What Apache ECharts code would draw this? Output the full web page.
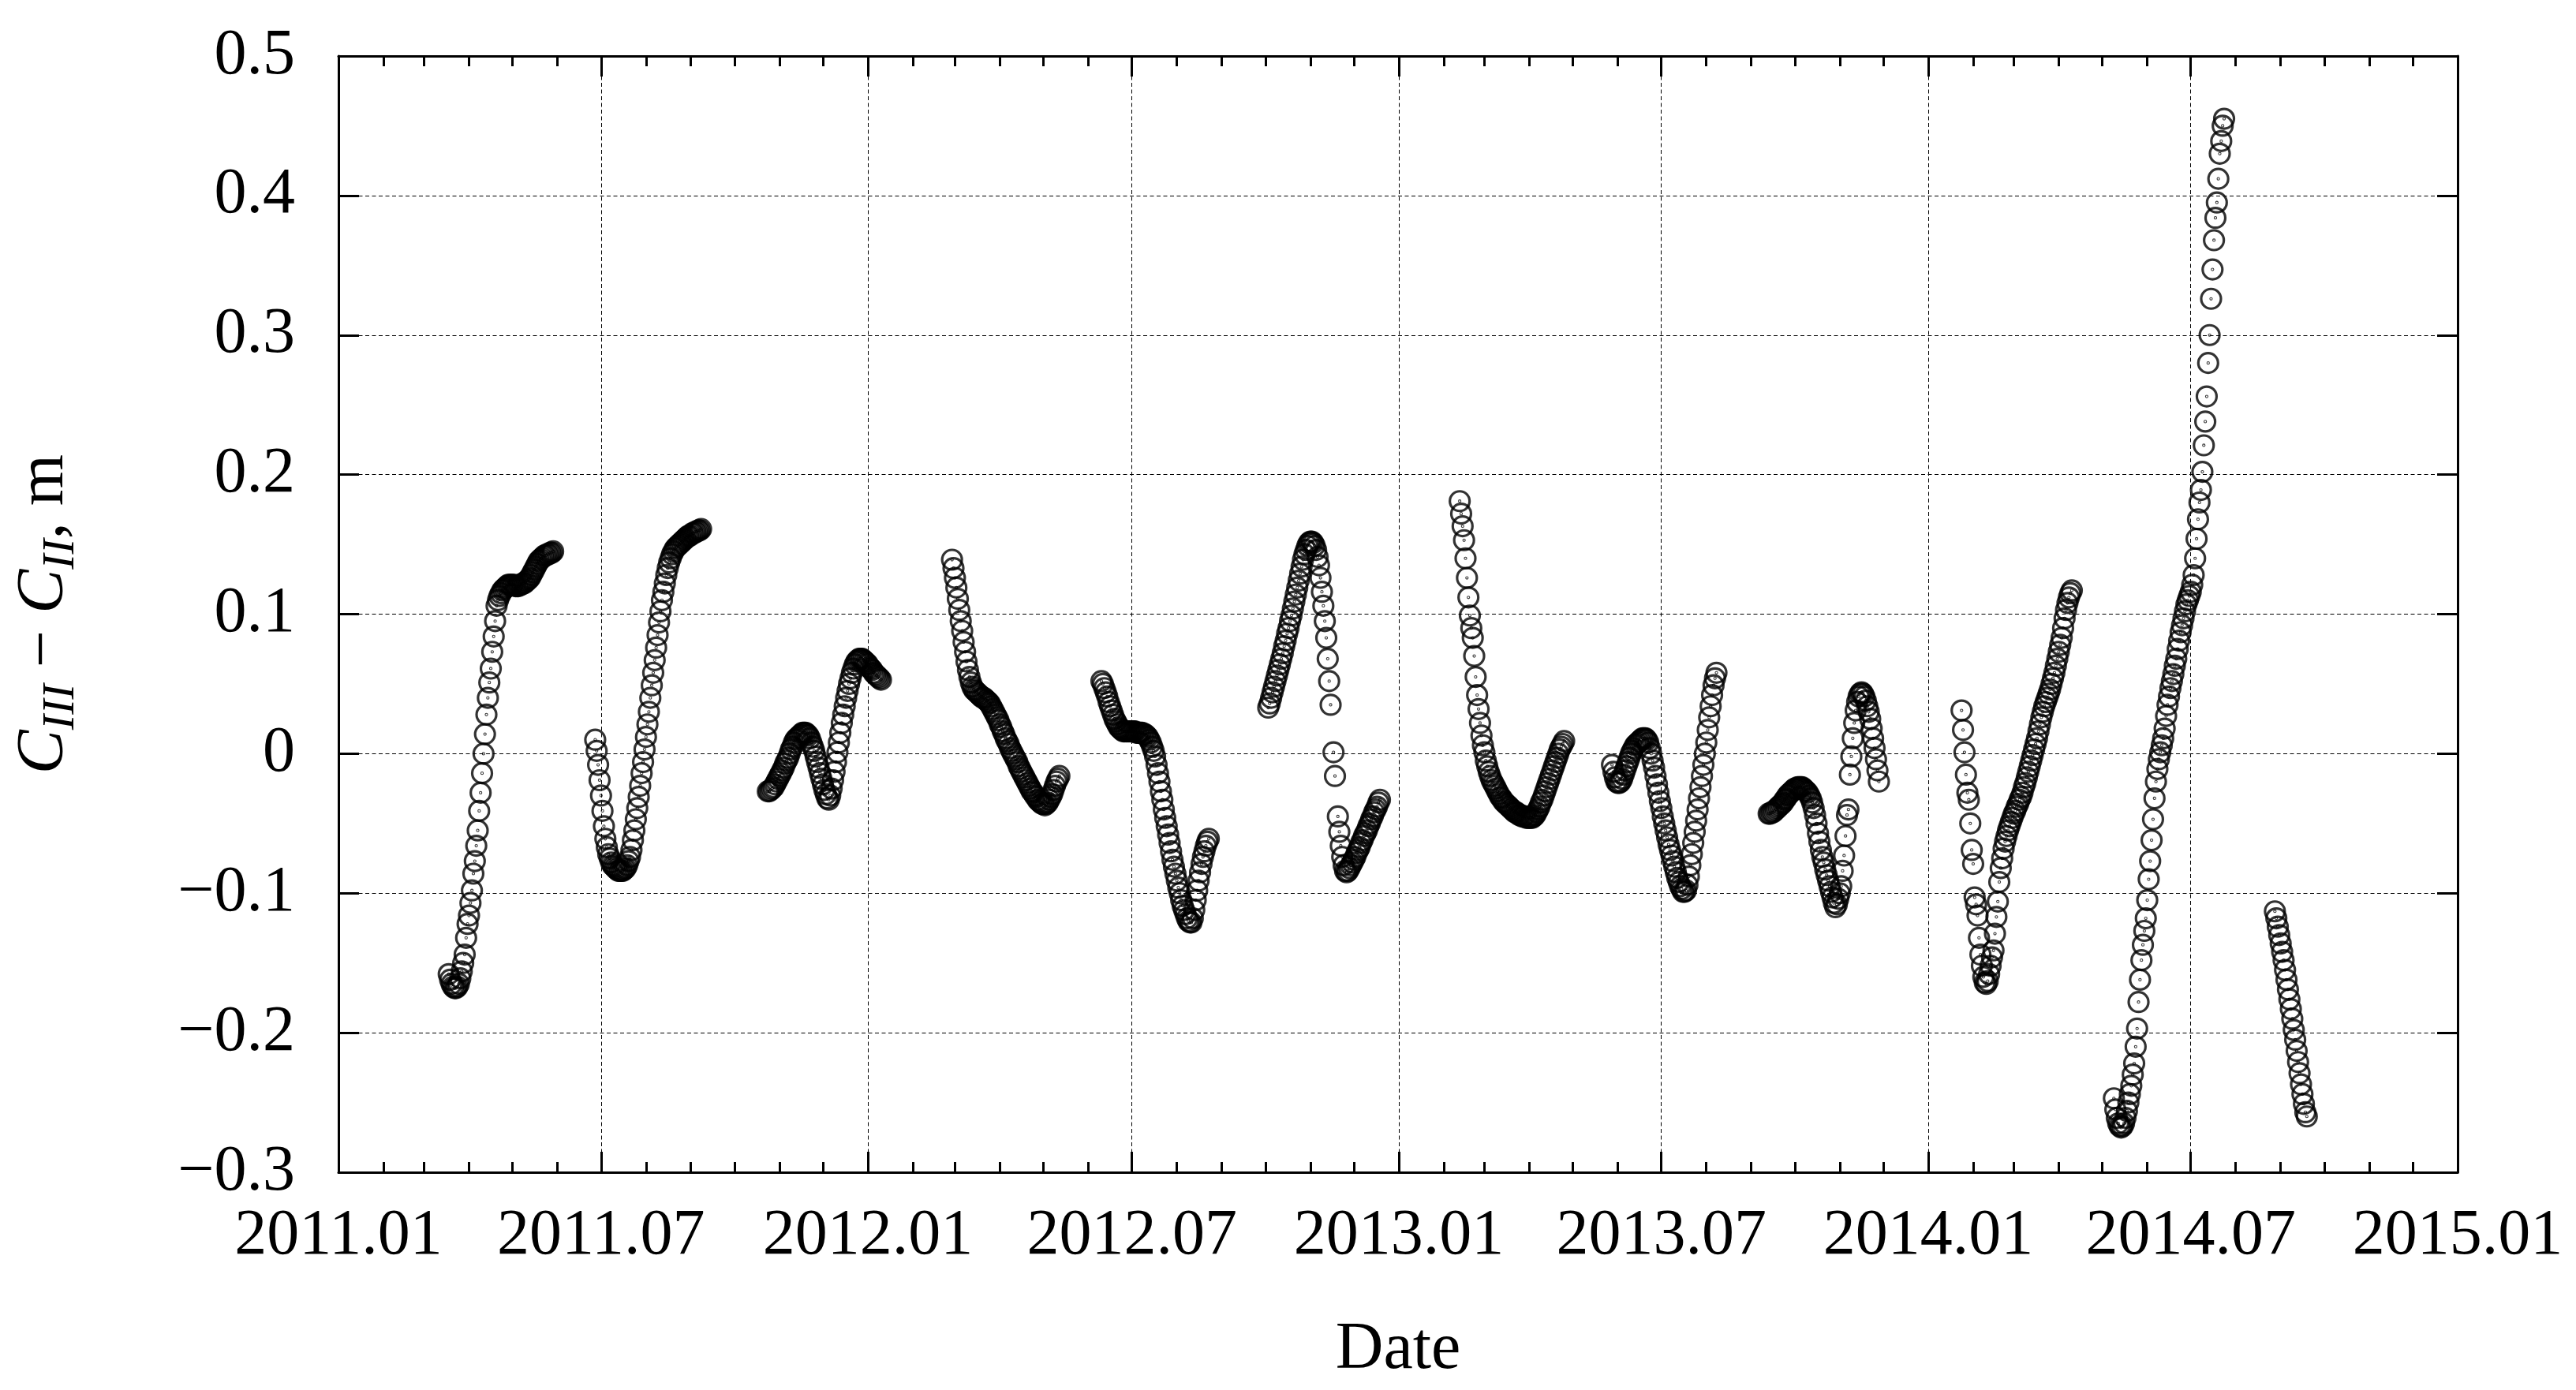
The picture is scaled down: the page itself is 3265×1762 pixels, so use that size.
<!DOCTYPE html>
<html>
<head>
<meta charset="utf-8">
<title>C_III − C_II</title>
<script src="https://cdn.jsdelivr.net/npm/echarts@6/dist/echarts.min.js"></script>
<style>
  html, body { margin: 0; padding: 0; background: #fff; }
  #chart { width: 3265px; height: 1762px; }
</style>
</head>
<body>
<div id="chart"></div>
<script>
// date axis tick labels (year.month)
const dateTicks = ['2011.01', '2011.07', '2012.01', '2012.07', '2013.01', '2013.07', '2014.01', '2014.07', '2015.01']

// first day of each observation run
const runStarts = [
  '2011-03-18', '2011-06-27', '2011-10-24', '2012-02-28', '2012-06-10', '2012-10-03',
  '2013-02-12', '2013-05-28', '2013-09-13', '2014-01-24', '2014-05-09', '2014-08-28'
]

// daily values of C_III - C_II, m (null = day missing)
const run1 = [
  -0.158, -0.162, -0.165, -0.167, -0.168, -0.168, -0.167, -0.165, -0.161, -0.156, -0.150,
  -0.144, -0.132, -0.122, -0.116, -0.107, -0.098, -0.086, -0.077, -0.066, -0.055, -0.041, -0.028,
  -0.014, 0.000, 0.014, 0.028, 0.040, 0.051, 0.061, 0.073, 0.084, 0.095, 0.106,
  0.110, 0.113, 0.115, 0.117, 0.118, 0.119, 0.120, 0.121, 0.121, 0.121, 0.121, 0.121, 0.120,
  0.120, 0.120, 0.121, 0.121, 0.122, 0.122, 0.123, 0.124, 0.125, 0.126, 0.128, 0.130, 0.132,
  0.134, 0.136, 0.138, 0.139, 0.140, 0.141, 0.142, 0.142, 0.143, 0.143, 0.144, 0.144, 0.145
]
const run2 = [
  0.010, 0.002, -0.008, -0.019, -0.030, -0.041, -0.052, -0.061, -0.067, -0.072,
  -0.075, -0.078, -0.080, -0.081, -0.082, -0.083, -0.084, -0.084, -0.084, -0.084,
  -0.083, -0.082, -0.080, -0.077, -0.074, -0.069, -0.062, -0.055, -0.047, -0.039,
  -0.031, -0.023, -0.014, -0.006, 0.003, 0.012, 0.021, 0.030, 0.040, 0.049,
  0.058, 0.067, 0.076, 0.085, 0.094, 0.102, 0.110, 0.116, 0.122, 0.128,
  0.133, 0.137, 0.140, 0.143, 0.145, 0.147, 0.148, 0.149, 0.150, 0.151,
  0.152, 0.153, 0.154, 0.155, 0.156, 0.156, 0.157, 0.158, 0.158, 0.159,
  0.159, 0.160, 0.160, 0.161
]
const run3 = [
  -0.027, -0.027, -0.026, -0.025, -0.024, -0.022, -0.020, -0.018, -0.016, -0.014,
  -0.012, -0.010, -0.007, -0.005, -0.003, 0.000, 0.003, 0.005, 0.008, 0.010,
  0.011, 0.012, 0.013, 0.014, 0.015, 0.015, 0.015, 0.014, 0.013, 0.011,
  0.008, 0.005, 0.002, -0.002, -0.006, -0.010, -0.014, -0.018, -0.022, -0.026,
  -0.029, -0.032, -0.033, -0.030, -0.025, -0.019, -0.013, -0.006, 0.001, 0.008,
  0.015, 0.022, 0.028, 0.034, 0.040, 0.045, 0.050, 0.054, 0.058, 0.061,
  0.064, 0.066, 0.067, 0.068, 0.068, 0.068, 0.067, 0.066, 0.065, 0.064,
  0.062, 0.061, 0.060, 0.058, 0.057, 0.056, 0.055, 0.054, 0.053
]
const run4 = [
  0.139, 0.133, 0.126, 0.119, 0.111, 0.103, 0.095, 0.088, 0.080, 0.073,
  0.066, 0.060, 0.055, 0.051, 0.048, 0.046, 0.045, 0.044, 0.043, 0.042,
  0.041, 0.040, 0.040, 0.039, 0.038, 0.037, 0.036, 0.034, 0.032, 0.030,
  0.028, 0.026, 0.024, 0.021, 0.019, 0.016, 0.014, 0.011, 0.009, 0.007,
  0.004, 0.002, 0.000, -0.002, -0.004, -0.006, -0.009, -0.011, -0.013, -0.015,
  -0.017, -0.019, -0.021, -0.023, -0.025, -0.027, -0.028, -0.030, -0.031, -0.033,
  -0.034, -0.035, -0.036, -0.036, -0.037, -0.036, -0.035, -0.033, -0.031, -0.029,
  -0.026, -0.023, -0.020, -0.018, -0.016
]
const run5 = [
  0.052, 0.050, 0.047, 0.044, 0.041, 0.037, 0.034, 0.031, 0.028, 0.025,
  0.023, 0.021, 0.019, 0.018, 0.017, 0.016, 0.016, 0.016, 0.016, 0.016,
  0.016, 0.016, 0.016, 0.016, 0.015, 0.015, 0.015, 0.015, 0.015, 0.014,
  0.014, 0.013, 0.012, 0.010, 0.008, 0.005, 0.002, -0.002, -0.008, -0.014,
  -0.020, -0.027, -0.033, -0.040, -0.046, -0.052, -0.058, -0.064, -0.070, -0.076,
  -0.081, -0.086, -0.091, -0.096, -0.100, -0.105, -0.109, -0.112, -0.115, -0.118,
  -0.120, -0.121, -0.121, -0.118, -0.112, -0.105, -0.098, -0.091, -0.085, -0.079,
  -0.074, -0.070, -0.066, -0.063, -0.061
]
const run6 = [
  0.033, 0.036, 0.040, 0.044, 0.048, 0.052, 0.056, 0.060, 0.064, 0.068,
  0.072, 0.077, 0.081, 0.086, 0.090, 0.095, 0.099, 0.104, 0.109, 0.114,
  0.119, 0.124, 0.129, 0.134, 0.139, 0.143, 0.146, 0.149, 0.151, 0.152,
  0.152, 0.151, 0.149, 0.146, 0.141, 0.135, 0.126, 0.116, 0.106, 0.095,
  0.083, 0.068, 0.052, 0.035, null, 0.001, -0.016, null, -0.045, -0.056,
  -0.066, -0.074, -0.080, -0.084, -0.085, -0.084, -0.082, -0.080, -0.078, -0.076,
  -0.074, -0.071, -0.069, -0.067, -0.064, -0.062, -0.059, -0.057, -0.055, -0.052,
  -0.050, -0.047, -0.045, -0.042, -0.040, -0.038, -0.035, -0.033
]
const run7 = [
  0.181, 0.172, 0.163, 0.153, 0.140, 0.126, 0.112, 0.099, 0.090, 0.083,
  0.070, 0.055, 0.042, 0.032, 0.022, 0.013, 0.006, 0.001, -0.005, -0.009,
  -0.013, -0.016, -0.019, -0.021, -0.023, -0.025, -0.027, -0.029, -0.031, -0.032,
  -0.034, -0.035, -0.036, -0.037, -0.038, -0.039, -0.040, -0.041, -0.042, -0.042,
  -0.043, -0.044, -0.044, -0.045, -0.045, -0.045, -0.046, -0.046, -0.046, -0.046,
  -0.046, -0.045, -0.044, -0.042, -0.040, -0.038, -0.035, -0.033, -0.030, -0.027,
  -0.024, -0.021, -0.018, -0.015, -0.012, -0.009, -0.006, -0.003, 0.000, 0.003,
  0.005, 0.007, 0.009
]
const run8 = [
  -0.008, -0.013, -0.017, -0.020, -0.021, -0.021, -0.020, -0.018, -0.015, -0.012,
  -0.009, -0.006, -0.003, 0.000, 0.002, 0.004, 0.006, 0.007, 0.008, 0.009,
  0.010, 0.011, 0.011, 0.011, 0.010, 0.008, 0.004, 0.000, -0.005, -0.010,
  -0.016, -0.022, -0.028, -0.034, -0.039, -0.045, -0.050, -0.055, -0.060, -0.065,
  -0.069, -0.073, -0.077, -0.081, -0.085, -0.089, -0.092, -0.095, -0.097, -0.099,
  -0.099, -0.098, -0.094, -0.088, -0.080, -0.072, -0.064, -0.056, -0.048, -0.040,
  -0.032, -0.024, -0.016, -0.008, 0.000, 0.008, 0.017, 0.026, 0.034, 0.042,
  0.049, 0.054, 0.058
]
const run9 = [
  -0.043, -0.043, -0.042, -0.042, -0.041, -0.040, -0.039, -0.038, -0.037, -0.036,
  -0.035, -0.033, -0.032, -0.030, -0.029, -0.028, -0.027, -0.026, -0.025, -0.025,
  -0.024, -0.024, -0.024, -0.024, -0.025, -0.026, -0.027, -0.028, -0.030, -0.032,
  -0.035, -0.039, -0.044, -0.050, -0.057, -0.063, -0.069, -0.074, -0.078, -0.083,
  -0.087, -0.091, -0.095, -0.099, -0.103, -0.107, -0.110, -0.108, -0.104, -0.100,
  -0.095, -0.084, -0.073, -0.059, -0.044, -0.040, -0.015, -0.002, 0.011, 0.022,
  0.031, 0.037, 0.041, 0.043, 0.044, 0.043, 0.041, 0.038, 0.034, 0.030,
  0.025, 0.018, 0.011, 0.004, -0.004, -0.012, -0.020
]
const run10 = [
  0.031, 0.017, 0.001, -0.015, -0.028, -0.033, -0.050, -0.069, -0.079, -0.103,
  -0.108, -0.116, -0.132, -0.144, -0.152, -0.160, -0.164, -0.165, -0.163, -0.158,
  -0.152, -0.146, -0.141, -0.129, -0.117, -0.106, -0.092, -0.082, -0.075, -0.068,
  -0.063, -0.059, -0.055, -0.052, -0.049, -0.046, -0.043, -0.041, -0.038, -0.036,
  -0.033, -0.031, -0.028, -0.024, -0.021, -0.017, -0.013, -0.009, -0.005, -0.001,
  0.003, 0.007, 0.011, 0.016, 0.021, 0.026, 0.030, 0.034, 0.037, 0.040,
  0.043, 0.046, 0.050, 0.054, 0.058, 0.063, 0.068, 0.073, 0.078, 0.083,
  0.090, 0.097, 0.103, 0.108, 0.112, 0.115, 0.117
]
const run11 = [
  -0.247, -0.255, -0.261, -0.265, -0.267, -0.268, -0.267, -0.265, -0.261, -0.256,
  -0.250, -0.244, -0.238, -0.230, -0.222, -0.210, -0.197, -0.178, -0.162, -0.148,
  -0.137, -0.127, -0.118, -0.105, -0.090, -0.077, -0.062, -0.047, -0.032, -0.020,
  -0.011, -0.004, 0.001, 0.006, 0.011, 0.018, 0.027, 0.035, 0.041, 0.047,
  0.052, 0.057, 0.063, 0.068, 0.075, 0.081, 0.087, 0.092, 0.097, 0.102,
  0.107, 0.110, 0.113, 0.116, 0.121, 0.128, 0.140, 0.154, 0.168, 0.180,
  0.189, 0.202, 0.221, 0.238, 0.256, 0.280, 0.300, 0.326, 0.347, 0.368,
  0.384, 0.395, 0.412, 0.430, 0.439, 0.450, 0.455
]
const run12 = [
  -0.113, -0.118, -0.124, -0.130, -0.136, -0.142, -0.148, -0.155, -0.162, -0.169,
  -0.176, -0.183, -0.190, -0.198, -0.205, -0.213, -0.221, -0.229, -0.237, -0.244,
  -0.251, -0.257, -0.260
]

const runs = [run1, run2, run3, run4, run5, run6, run7, run8, run9, run10, run11, run12]

const DAY = 86400000
const FONT = 'Liberation Serif'

function parseDay(s) {
  const [y, m, d] = s.split('-').map(Number)
  return Date.UTC(y, m - 1, d)
}

// tick positions from the labels
const majorTicks = dateTicks.map(s => {
  const [y, m] = s.split('.').map(Number)
  return Date.UTC(y, m - 1, 1)
})
const monthTicks = []
for (let y = 2011; y <= 2014; y++) {
  for (let m = 0; m < 12; m++) monthTicks.push(Date.UTC(y, m, 1))
}
monthTicks.push(Date.UTC(2015, 0, 1))

const xMin = majorTicks[0]
const xMax = majorTicks[majorTicks.length - 1]

// [time, value] pairs
const points = []
runs.forEach((vals, k) => {
  const t0 = parseDay(runStarts[k])
  vals.forEach((v, i) => {
    if (v !== null) points.push([t0 + i * DAY, v])
  })
})

function dateLabel(v) {
  const d = new Date(v)
  const m = d.getUTCMonth() + 1
  return d.getUTCFullYear() + '.' + (m < 10 ? '0' + m : m)
}

function numLabel(v) {
  const r = Math.round(v * 10) / 10
  if (r === 0) return '0'
  return r < 0 ? '\u2212' + (-r).toFixed(1) : r.toFixed(1)
}

const frame = { show: true, onZero: false, lineStyle: { color: '#000', width: 3 } }
const gridDash = { show: true, lineStyle: { color: '#000', width: 1, type: [5, 3.5] } }

// ring with a small dot in the middle, like the plotting program's point
const ringSymbol = 'path://M0,-12A12,12 0 1,1 0,12A12,12 0 1,1 0,-12Z M0,-0.5A0.5,0.5 0 1,1 0,0.5A0.5,0.5 0 1,1 0,-0.5Z'

function timeAxis(position, ticks, len, withLabels, withLine) {
  return {
    type: 'value',
    position: position,
    min: xMin,
    max: xMax,
    axisLine: withLine ? frame : { show: false, onZero: false },
    axisTick: {
      show: true,
      inside: true,
      length: len,
      customValues: ticks,
      lineStyle: { color: '#000', width: 3 }
    },
    axisLabel: withLabels ? {
      show: true,
      customValues: majorTicks,
      formatter: dateLabel,
      margin: 40,
      color: '#000',
      fontFamily: FONT,
      fontSize: 82
    } : { show: false },
    splitLine: withLabels ? gridDash : { show: false }
  }
}

const chart = echarts.init(document.getElementById('chart'))

chart.setOption({
  animation: false,
  backgroundColor: '#fff',
  grid: { left: 429, right: 150, top: 71, bottom: 276, containLabel: false },
  xAxis: [
    Object.assign(timeAxis('bottom', majorTicks, 26, true, true), {
      name: 'Date',
      nameLocation: 'middle',
      nameGap: 184,
      nameTextStyle: { color: '#000', fontFamily: FONT, fontSize: 84 }
    }),
    timeAxis('bottom', monthTicks, 13, false, false),
    timeAxis('top', majorTicks, 26, false, true),
    timeAxis('top', monthTicks, 13, false, false)
  ],
  yAxis: [
    {
      type: 'value',
      position: 'left',
      min: -0.3,
      max: 0.5,
      interval: 0.1,
      axisLine: frame,
      axisTick: { show: true, inside: true, length: 26, lineStyle: { color: '#000', width: 3 } },
      axisLabel: { formatter: numLabel, margin: 55, color: '#000', fontFamily: FONT, fontSize: 82 },
      splitLine: gridDash,
      name: '{i|C}{s|III}{n| \u2212 }{i|C}{s|II}{n|, m}',
      nameLocation: 'middle',
      nameRotate: 90,
      nameGap: 322,
      nameTextStyle: {
        color: '#000',
        fontFamily: FONT,
        fontSize: 84,
        rich: {
          i: { fontFamily: FONT, fontSize: 84, fontStyle: 'italic', lineHeight: 100, color: '#000' },
          s: { fontFamily: FONT, fontSize: 58, fontStyle: 'italic', lineHeight: 60, verticalAlign: 'bottom', color: '#000' },
          n: { fontFamily: FONT, fontSize: 84, lineHeight: 100, color: '#000' }
        }
      }
    },
    {
      type: 'value',
      position: 'right',
      min: -0.3,
      max: 0.5,
      interval: 0.1,
      axisLine: frame,
      axisTick: { show: true, inside: true, length: 26, lineStyle: { color: '#000', width: 3 } },
      axisLabel: { show: false },
      splitLine: { show: false }
    }
  ],
  series: [{
    type: 'scatter',
    xAxisIndex: 0,
    yAxisIndex: 0,
    data: points,
    symbol: ringSymbol,
    symbolSize: 25,
    progressive: 0,
    itemStyle: { color: 'rgba(0,0,0,0)', borderColor: '#000', borderWidth: 3.2 },
    emphasis: { disabled: true },
    silent: true
  }]
})
</script>
</body>
</html>
